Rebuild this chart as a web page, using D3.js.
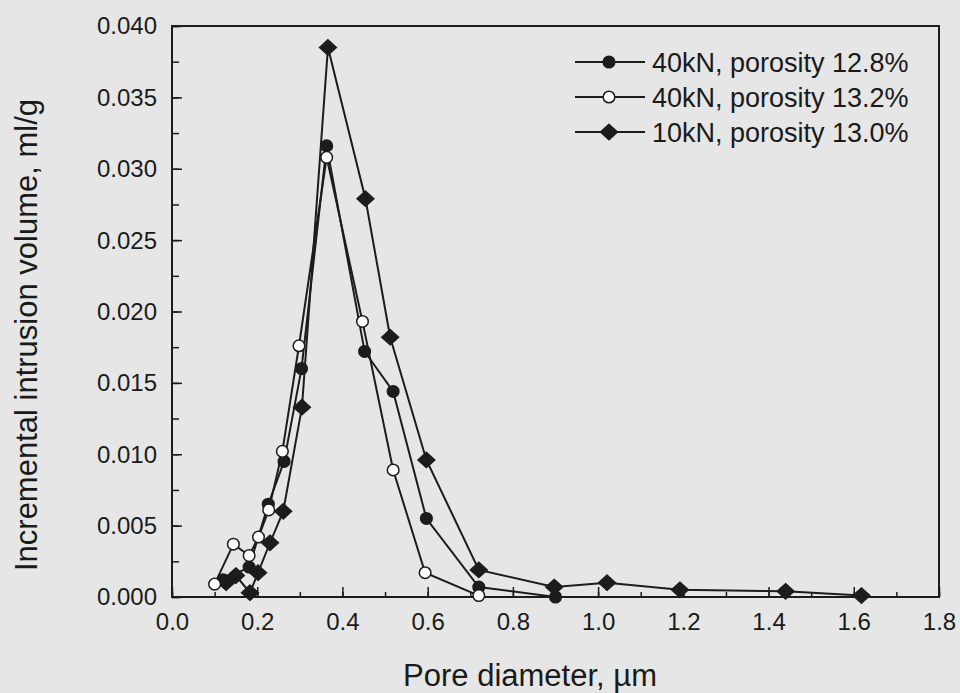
<!DOCTYPE html>
<html>
<head>
<meta charset="utf-8">
<script src="https://cdn.jsdelivr.net/npm/d3@7"></script>
<style>
  html, body { margin: 0; padding: 0; background: #e6e6e6; }
  svg { display: block; }
  text { font-family: "Liberation Sans", Arial, Helvetica, sans-serif; fill: #1a1a1a; }
</style>
</head>
<body>
<svg id="chart" width="960" height="693"></svg>
<script>
// ---- data ----
const seriesNames = ["40kN, porosity 12.8%", "40kN, porosity 13.2%", "10kN, porosity 13.0%"];
const seriesMarkers = ["filled", "open", "diamond"];

const s1x = [0.120, 0.181, 0.226, 0.263, 0.304, 0.363, 0.452, 0.519, 0.597, 0.720, 0.900];
const s1y = [0.0012, 0.0021, 0.0065, 0.0095, 0.0160, 0.0316, 0.0172, 0.0144, 0.0055, 0.0007, 0.0000];

const s2x = [0.100, 0.144, 0.181, 0.203, 0.227, 0.259, 0.298, 0.363, 0.447, 0.519, 0.594, 0.720];
const s2y = [0.0009, 0.0037, 0.0029, 0.0042, 0.0061, 0.0102, 0.0176, 0.0308, 0.0193, 0.0089, 0.0017, 0.0001];

const s3x = [0.127, 0.150, 0.183, 0.202, 0.230, 0.261, 0.305, 0.366, 0.454, 0.512, 0.597, 0.720, 0.897, 1.021, 1.192, 1.440, 1.618];
const s3y = [0.0010, 0.0015, 0.0003, 0.0017, 0.0038, 0.0060, 0.0133, 0.0385, 0.0279, 0.0182, 0.0096, 0.0019, 0.0007, 0.0010, 0.0005, 0.0004, 0.0001];

const xTicks = [0.0, 0.2, 0.4, 0.6, 0.8, 1.0, 1.2, 1.4, 1.6, 1.8];
const yTicks = [0.000, 0.005, 0.010, 0.015, 0.020, 0.025, 0.030, 0.035, 0.040];
const xTitle = "Pore diameter, \u00b5m";
const yTitle = "Incremental intrusion volume, ml/g";

// ---- layout ----
const svg = d3.select("#chart");
const L = 172, R = 939, T = 26, B = 597;
const ink = "#1c1c1c";
const font = '"Liberation Sans", Arial, sans-serif';

const x = d3.scaleLinear().domain([0, 1.8]).range([L, R]);
const y = d3.scaleLinear().domain([0, 0.04]).range([B, T]);

svg.append("rect").attr("width", 960).attr("height", 693).attr("fill", "#e6e6e6");

// frame
svg.append("rect").attr("x", L).attr("y", T).attr("width", R - L).attr("height", B - T)
  .attr("fill", "none").attr("stroke", ink).attr("stroke-width", 2);

// x axis (inward ticks)
const xMinor = d3.range(0, 1.81, 0.1);
svg.append("g").attr("transform", `translate(0,${B})`)
  .call(d3.axisBottom(x).tickValues(xMinor).tickSize(-5).tickFormat(""))
  .call(g => g.select(".domain").remove())
  .call(g => g.selectAll("line").attr("stroke", ink).attr("stroke-width", 1.5));
svg.append("g").attr("transform", `translate(0,${B})`)
  .call(d3.axisBottom(x).tickValues(xTicks).tickSize(-10).tickFormat(d3.format(".1f")))
  .call(g => g.select(".domain").remove())
  .call(g => g.selectAll("line").attr("stroke", ink).attr("stroke-width", 1.5))
  .call(g => g.selectAll("text").attr("font-size", 24).attr("fill", ink)
    .attr("font-family", font).attr("y", 33).attr("dy", "0"));

// y axis (inward ticks)
const yMinor = d3.range(0, 0.04001, 0.0025);
svg.append("g").attr("transform", `translate(${L},0)`)
  .call(d3.axisLeft(y).tickValues(yMinor).tickSize(-7).tickFormat(""))
  .call(g => g.select(".domain").remove())
  .call(g => g.selectAll("line").attr("stroke", ink).attr("stroke-width", 1.5));
svg.append("g").attr("transform", `translate(${L},0)`)
  .call(d3.axisLeft(y).tickValues(yTicks).tickSize(-10).tickPadding(15).tickFormat(d3.format(".3f")))
  .call(g => g.select(".domain").remove())
  .call(g => g.selectAll("line").attr("stroke", ink).attr("stroke-width", 1.5))
  .call(g => g.selectAll("text").attr("font-size", 24).attr("fill", ink)
    .attr("font-family", font).attr("dy", "0.33em"));

// axis titles
svg.append("text").attr("x", 530).attr("y", 686).attr("text-anchor", "middle")
  .attr("font-size", 31).text(xTitle);
svg.append("text").attr("transform", `translate(37,335) rotate(-90)`)
  .attr("text-anchor", "middle").attr("font-size", 31).text(yTitle);

// series
const series = [
  {name: seriesNames[0], marker: seriesMarkers[0], pts: s1x.map((v, i) => [v, s1y[i]])},
  {name: seriesNames[1], marker: seriesMarkers[1], pts: s2x.map((v, i) => [v, s2y[i]])},
  {name: seriesNames[2], marker: seriesMarkers[2], pts: s3x.map((v, i) => [v, s3y[i]])}
];

const line = d3.line().x(d => x(d[0])).y(d => y(d[1]));
const diamond = d3.symbol().type(d3.symbolDiamond2).size(160);

function drawMarker(g, type, cx, cy) {
  if (type === "diamond") {
    g.append("path").attr("d", diamond()).attr("transform", `translate(${cx},${cy}) scale(1.1,1)`)
      .attr("fill", ink).attr("stroke", ink).attr("stroke-width", 1);
  } else {
    g.append("circle").attr("cx", cx).attr("cy", cy).attr("r", 5.8)
      .attr("fill", type === "open" ? "#ffffff" : ink)
      .attr("stroke", ink).attr("stroke-width", 1.5);
  }
}

const plot = svg.append("g");
// draw order: diamond series first, then filled, then open
[2, 0, 1].forEach(i => {
  plot.append("path").datum(series[i].pts).attr("d", line).attr("fill", "none")
    .attr("stroke", ink).attr("stroke-width", 2);
});
[2, 0, 1].forEach(i => {
  const s = series[i];
  const g = plot.append("g");
  s.pts.forEach(p => drawMarker(g, s.marker, x(p[0]), y(p[1])));
});

// legend
const leg = svg.append("g");
series.forEach((s, i) => {
  const ly = 62 + i * 35;
  leg.append("line").attr("x1", 575).attr("x2", 645).attr("y1", ly).attr("y2", ly)
    .attr("stroke", ink).attr("stroke-width", 2);
  drawMarker(leg, s.marker, 609, ly);
  leg.append("text").attr("x", 652).attr("y", ly).attr("dy", "0.36em")
    .attr("font-size", 27).text(s.name);
});
</script>
</body>
</html>
